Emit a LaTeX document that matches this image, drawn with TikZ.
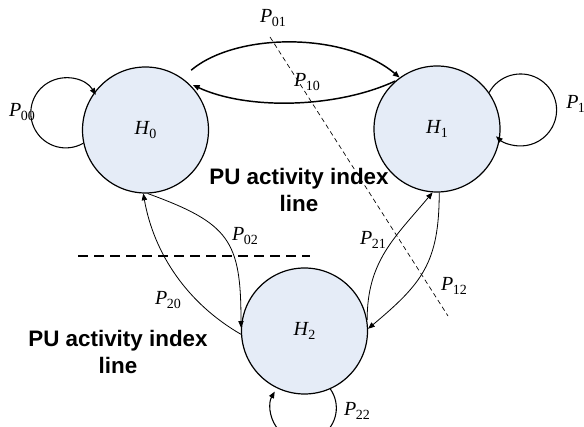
\documentclass[tikz,border=0pt]{standalone}
\usepackage{fontspec}
\setmainfont{Liberation Serif}
\newfontfamily\notefont{Liberation Sans}
\usetikzlibrary{arrows.meta,calc}
\definecolor{statefill}{RGB}{229,236,247}
\newcommand{\prob}[2]{\textit{#1}\kern-0.5pt\raisebox{-3.6pt}{\fontsize{10.5}{12}\selectfont #2}}

\begin{document}
\begin{tikzpicture}[x=0.75pt,y=0.75pt,
  hstate/.style={circle,draw,line width=0.9pt,fill=statefill,minimum size=94.5pt,inner sep=0pt,font=\fontsize{15}{18}\selectfont},
  lbl/.style={inner sep=0pt,font=\fontsize{15}{18}\selectfont},
  note/.style={align=center,inner sep=0pt,font=\notefont\bfseries\fontsize{16.8}{20}\selectfont},
  arr/.style={-{Triangle[length=5pt,width=4pt]}},
  toparc/.style={arr,line width=1.1pt},
  lowarc/.style={arr,line width=0.6pt},
  loopline/.style={arr,line width=0.8pt}]
\useasboundingbox (0,0) rectangle (584,427);

\node[hstate] (h0) at (145.5,297) {\prob{H}{0}};
\node[hstate] (h1) at (437,298) {\prob{H}{1}};
\node[hstate] (h2) at (304.5,96) {\prob{H}{2}};

\draw [line width=0.5pt,dash pattern=on 3.5pt off 2.5pt] (270,390) -- (448,111);
\draw [line width=0.8pt,dash pattern=on 7.5pt off 4.5pt] (78,171) -- (310,171);

% H0 <-> H1
\draw [toparc,shorten <=9pt] (h0.55) to[out=40,in=140,looseness=0.84] (h1.126);
\draw [toparc,shorten >=4pt] (h1.131) to[out=205,in=-25,looseness=0.8] (h0.48);
% H0 <-> H2
\draw [lowarc] (h0.272) to[out=-20,in=90,looseness=1.36] (h2.177);
\draw [lowarc] (h2.183) to[out=150,in=-80,looseness=0.92] (h0.268);
% H1 <-> H2
\draw [lowarc] (h1.272) to[out=-90,in=40,looseness=1.17] (h2.2);
\draw [lowarc] (h2.10) to[out=90,in=230,looseness=1.05] (h1.266);

\draw [loopline] (h0.192) arc[start angle=-60,end angle=-329,radius=35];
\draw [loopline] (h1.35) arc[start angle=151,end angle=-133,radius=36];
\draw [loopline] (h2.294) arc[start angle=35,end angle=-210,radius=33];

\node[lbl] (p00) at (22,315) {\prob{P}{00}};
\node[lbl] (p01) at (273,409) {\prob{P}{01}};
\node[lbl] (p10) at (307,345) {\prob{P}{10}};
\node[lbl,anchor=west] (p11) at (566,323) {\prob{P}{11}};
\node[lbl] (p02) at (245,191) {\prob{P}{02}};
\node[lbl] (p20) at (168,127) {\prob{P}{20}};
\node[lbl] (p21) at (373,187) {\prob{P}{21}};
\node[lbl] (p12) at (454,141) {\prob{P}{12}};
\node[lbl] (p22) at (357,16) {\prob{P}{22}};

\node[note] (idx1) at (299,237) {PU activity index\\line};
\node[note] (idx2) at (118,75) {PU activity index\\line};

\end{tikzpicture}
\end{document}
